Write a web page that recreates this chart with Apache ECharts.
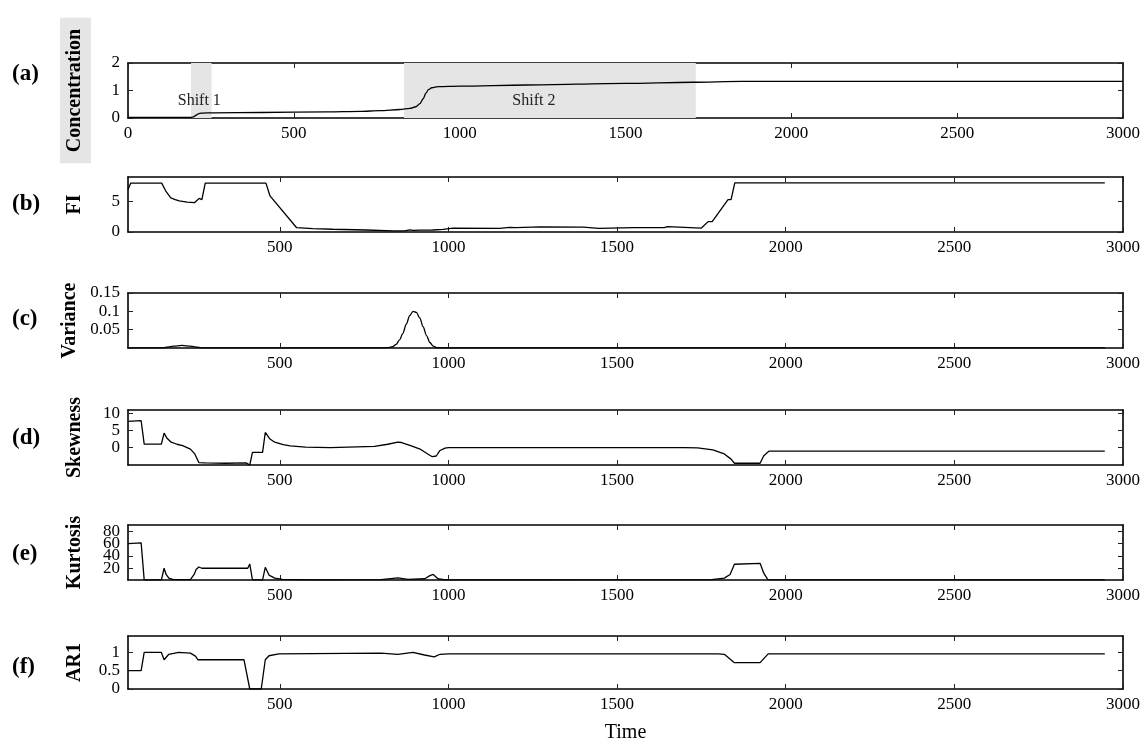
<!DOCTYPE html>
<html><head><meta charset="utf-8">
<script src="https://cdn.jsdelivr.net/npm/echarts@6/dist/echarts.min.js"></script>
<style>html,body{margin:0;background:#fff}#c{width:1145px;height:744px}</style>
</head><body><div id="c"></div>
<script>
// ---- data ----
const timeTicksA = [0, 500, 1000, 1500, 2000, 2500, 3000];
const timeTicks = [500, 1000, 1500, 2000, 2500, 3000];
const shifts = [
  { from: 190, to: 252, label: 'Shift 1' },
  { from: 832, to: 1712, label: 'Shift 2' }
];
const concentration = [[0,0.02],[190,0.02],[198,0.04],[205,0.1],[212,0.15],[222,0.18],[260,0.19],[400,0.2],[600,0.22],[700,0.24],[760,0.27],[820,0.31],[850,0.35],[868,0.41],[880,0.52],[890,0.7],[898,0.9],[906,1.03],[916,1.1],[935,1.14],[1000,1.16],[1200,1.2],[1500,1.26],[1700,1.3],[1850,1.33],[3000,1.33]];
const fi = [[50,6.9],[58,8.0],[150,8.0],[162,6.7],[177,5.6],[190,5.3],[202,5.1],[225,4.9],[247,4.8],[255,5.2],[261,5.5],[265,5.4],[269,5.3],[279,8.0],[459,8.0],[471,5.9],[550,0.7],[598,0.55],[657,0.45],[756,0.33],[836,0.2],[870,0.2],[885,0.35],[895,0.25],[915,0.3],[954,0.33],[984,0.43],[1014,0.65],[1152,0.6],[1181,0.75],[1200,0.7],[1272,0.85],[1400,0.8],[1446,0.6],[1550,0.7],[1640,0.7],[1649,0.87],[1750,0.65],[1770,1.7],[1782,1.7],[1829,5.3],[1838,5.3],[1849,8.05],[2946,8.05]];
const variance = [[50,0.0003],[150,0.0003],[165,0.002],[185,0.005],[210,0.007],[235,0.005],[255,0.002],[275,0.0005],[600,0.0003],[800,0.0005],[820,0.001],[835,0.004],[845,0.01],[855,0.022],[865,0.04],[875,0.065],[885,0.088],[895,0.1],[905,0.097],[915,0.082],[925,0.058],[935,0.034],[945,0.015],[955,0.005],[965,0.001],[980,0.0005],[2946,0.0005]];
const skewness = [[50,7.6],[89,7.8],[98,1.05],[149,1.05],[157,4.2],[165,2.8],[178,1.6],[195,1.0],[212,0.6],[235,-0.4],[248,-1.8],[260,-4.3],[280,-4.4],[340,-4.5],[400,-4.4],[411,-5],[419,-1.35],[449,-1.35],[457,4.4],[470,2.6],[485,1.6],[510,0.9],[531,0.5],[576,0.15],[650,0.05],[781,0.4],[820,1.0],[850,1.6],[861,1.5],[890,0.5],[918,-0.5],[940,-1.9],[952,-2.6],[964,-2.4],[975,-0.8],[990,-0.1],[1000,0],[1700,0],[1739,-0.05],[1784,-0.6],[1818,-1.8],[1838,-3.3],[1848,-4.5],[1924,-4.5],[1935,-2.3],[1950,-1.0],[2946,-1.0]];
const kurtosis = [[50,60],[89,61],[98,1.2],[149,1.2],[157,20],[163,10],[171,4],[185,1.5],[235,1.5],[246,10],[252,18],[260,22],[269,20],[405,20],[411,27],[419,1.2],[449,1.2],[457,21.6],[468,9],[485,4],[508,2],[600,1.3],[800,1.5],[850,4.5],[880,2],[930,3],[945,8],[955,10],[969,3],[990,1.3],[1780,1.5],[1818,4],[1835,10],[1848,26.5],[1924,28],[1935,12],[1947,1.5],[2946,1.3]];
const ar1 = [[50,0.5],[89,0.5],[98,1.0],[149,1.0],[157,0.8],[171,0.95],[200,1.0],[235,0.98],[250,0.9],[257,0.8],[269,0.8],[394,0.8],[411,0.0],[445,0.0],[457,0.8],[468,0.91],[497,0.96],[800,0.98],[850,0.95],[895,1.0],[929,0.93],[958,0.88],[975,0.95],[1000,0.96],[1800,0.96],[1818,0.95],[1848,0.72],[1924,0.72],[1948,0.96],[2946,0.96]];

const panelNames = ['Concentration', 'FI', 'Variance', 'Skewness', 'Kurtosis', 'AR1'];
const panelLetters = ['(a)', '(b)', '(c)', '(d)', '(e)', '(f)'];
const panelData = [concentration, fi, variance, skewness, kurtosis, ar1];
const yTicks = [[0,1,2],[0,5],[0.05,0.1,0.15],[0,5,10],[20,40,60,80],[0,0.5,1]];
const yRanges = [[0,2],[0,9],[0,0.15],[-5,10.9],[1,90],[0,1.45]];
const xRanges = [[0,3000],[50,3000],[50,3000],[50,3000],[50,3000],[50,3000]];

// ---- layout / style ----
const FONT = '"Liberation Serif", "DejaVu Serif", serif';
const gridTops = [63, 177, 293, 410, 525, 636];
const gridH = 55;
const letterY = [76, 206, 321, 440, 556, 669];
const smoothed = [true, false, true, false, false, false];

const grids = [], xAxes = [], yAxes = [], extraY = [], series = [], graphics = [];
const boxLine = { show: true, onZero: false, lineStyle: { color: '#000', width: 1.6 } };
const tick = (vals) => ({ show: true, inside: true, length: 5, customValues: vals, lineStyle: { color: '#222', width: 1 } });
const fmt = (v) => String(v);
const labelBase = { show: true, color: '#000', fontFamily: FONT, fontSize: 17, formatter: fmt,
  hideOverlap: false, showMinLabel: true, showMaxLabel: true };

panelData.forEach((d, i) => {
  grids.push({ left: 128, width: 995, top: gridTops[i], height: gridH, containLabel: false });
  const xt = i === 0 ? timeTicksA : timeTicks;
  const bottomX = {
    type: 'value', gridIndex: i, position: 'bottom', min: xRanges[i][0], max: xRanges[i][1],
    axisLine: boxLine, axisTick: tick(xt), splitLine: { show: false },
    axisLabel: Object.assign({}, labelBase, { customValues: xt, margin: 7 })
  };
  if (i === panelData.length - 1) {
    bottomX.name = 'Time';
    bottomX.nameLocation = 'middle';
    bottomX.nameGap = 34;
    bottomX.nameTextStyle = { color: '#000', fontFamily: FONT, fontSize: 20 };
  }
  xAxes.push(bottomX);
  xAxes.push({
    type: 'value', gridIndex: i, position: 'top', min: xRanges[i][0], max: xRanges[i][1],
    axisLine: boxLine, axisTick: tick(xt), splitLine: { show: false }, axisLabel: { show: false }
  });
  const nameStyle = { color: '#000', fontFamily: FONT, fontSize: 20, fontWeight: 'bold' };
  if (i === 0) Object.assign(nameStyle, { backgroundColor: '#e5e5e5', padding: [5, 11, 6, 11] });
  // split labels into alternating groups so dense tick labels are not dropped
  const dense = yTicks[i].length > 3;
  const groupA = dense ? yTicks[i].filter((_, k) => k % 2 === 0) : yTicks[i];
  const groupB = dense ? yTicks[i].filter((_, k) => k % 2 === 1) : [];
  yAxes.push({
    type: 'value', gridIndex: i, position: 'left', min: yRanges[i][0], max: yRanges[i][1],
    axisLine: boxLine, axisTick: tick(yTicks[i]), splitLine: { show: false },
    axisLabel: Object.assign({}, labelBase, { customValues: groupA, margin: 8 }),
    name: panelNames[i], nameLocation: 'middle', nameRotate: 90, nameGap: i === 0 ? 37 : 43,
    nameTextStyle: nameStyle
  });
  yAxes.push({
    type: 'value', gridIndex: i, position: 'right', min: yRanges[i][0], max: yRanges[i][1],
    axisLine: boxLine, axisTick: tick(yTicks[i]), splitLine: { show: false }, axisLabel: { show: false }
  });
  if (groupB.length) {
    extraY.push({
      type: 'value', gridIndex: i, position: 'left', offset: 0, min: yRanges[i][0], max: yRanges[i][1],
      axisLine: { show: false }, axisTick: { show: false }, splitLine: { show: false },
      axisLabel: Object.assign({}, labelBase, { customValues: groupB, margin: 8 })
    });
  }
  const s = {
    type: 'line', xAxisIndex: i * 2, yAxisIndex: i * 2, data: d, showSymbol: false,
    smooth: smoothed[i] ? 0.3 : false, smoothMonotone: 'x',
    lineStyle: { color: '#000', width: 1.3 }, clip: true, animation: false, z: 5
  };
  if (i === 0) {
    s.markArea = {
      silent: true,
      itemStyle: { color: '#e5e5e5' },
      label: { show: true, position: 'inside', color: '#222', fontFamily: FONT, fontSize: 16 },
      data: shifts.map((sh, k) => [
        { xAxis: sh.from, name: sh.label, label: { offset: [k === 0 ? -2 : -16, 10] } },
        { xAxis: sh.to }
      ])
    };
  }
  series.push(s);
  graphics.push({
    type: 'text', left: 12, top: letterY[i] - 13,
    style: { text: panelLetters[i], fill: '#000', font: 'bold 23px ' + FONT }
  });
});

const chart = echarts.init(document.getElementById('c'), null, { renderer: 'canvas' });
chart.setOption({
  backgroundColor: '#fff', animation: false,
  grid: grids, xAxis: xAxes, yAxis: yAxes.concat(extraY), series: series, graphic: graphics
});
</script></body></html>
